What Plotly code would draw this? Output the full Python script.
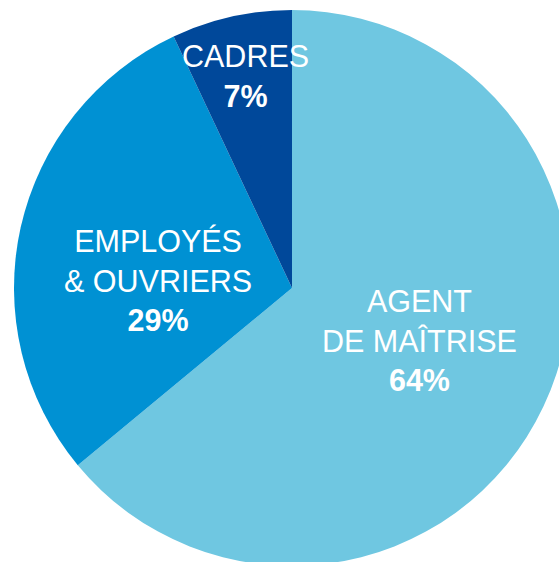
import plotly.graph_objects as go

labels = ["AGENT<br>DE MAÎTRISE", "EMPLOYÉS<br>& OUVRIERS", "CADRES"]
values = [64, 29, 7]
colors = ["#6FC7E1", "#0091D3", "#00489A"]

# label block centres (pixels on the page)
label_px = [(419, 340), (158, 280), (245, 76)]

W, H = 584, 576
cx, cy, R = 292, 288, 278

fig = go.Figure(go.Pie(
    labels=labels,
    values=values,
    marker=dict(colors=colors, line=dict(width=0)),
    sort=False,
    direction="clockwise",
    rotation=0,
    textinfo="none",
    hoverinfo="label+percent",
    domain=dict(x=[(cx - R) / W, (cx + R) / W],
                y=[(H - cy - R) / H, (H - cy + R) / H]),
    showlegend=False,
))

for lab, val, (px, py) in zip(labels, values, label_px):
    fig.add_annotation(
        x=px / W, y=1 - py / H, xref="paper", yref="paper",
        text=f"{lab}<br><b>{val}%</b>",
        showarrow=False, xanchor="center", yanchor="middle",
        font=dict(family="Liberation Sans, Arial, sans-serif", size=30.5, color="white"),
        align="center",
    )

fig.update_layout(
    width=W, height=H,
    margin=dict(l=0, r=0, t=0, b=0),
    paper_bgcolor="white", plot_bgcolor="white",
)

fig.write_html(
    "out.html",
    config={"displayModeBar": False},
    post_script="document.body.style.margin='0';document.body.style.overflow='hidden';document.documentElement.style.overflow='hidden';",
)
